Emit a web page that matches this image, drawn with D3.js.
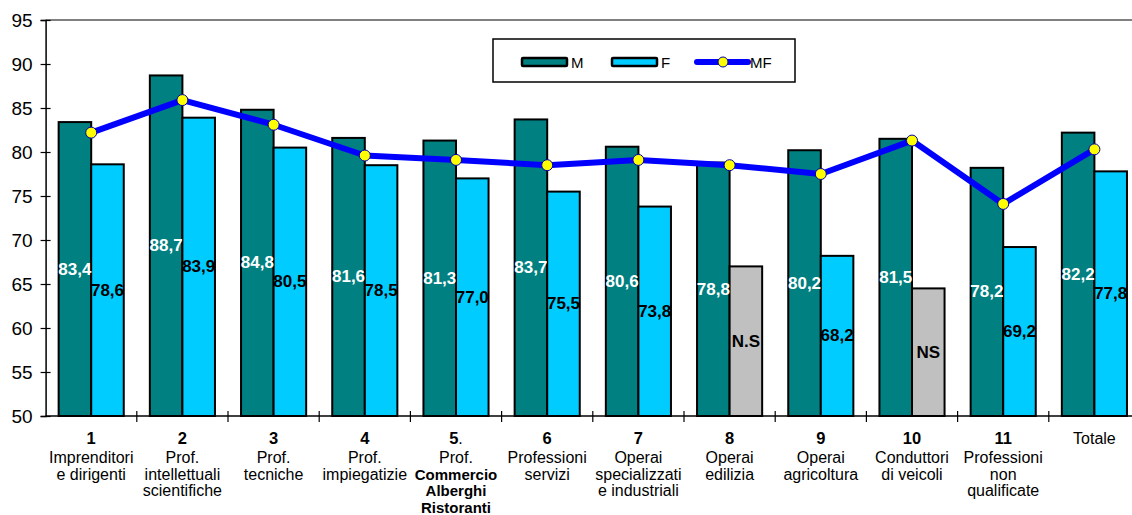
<!DOCTYPE html>
<html>
<head>
<meta charset="utf-8">
<script src="https://cdn.jsdelivr.net/npm/d3@7"></script>
<style>
  html, body { margin: 0; padding: 0; background: #fff; }
  svg { display: block; font-family: "Liberation Sans", Arial, sans-serif; }
</style>
</head>
<body>
<svg id="chart" width="1132" height="515"></svg>
<script>
// ---- data ----
const catNumbers = ["1", "2", "3", "4", "5", "6", "7", "8", "9", "10", "11", "Totale"];
const catLines = [
  ["Imprenditori", "e dirigenti"],
  ["Prof.", "intellettuali", "scientifiche"],
  ["Prof.", "tecniche"],
  ["Prof.", "impiegatizie"],
  ["Prof.", "Commercio", "Alberghi", "Ristoranti"],
  ["Professioni", "servizi"],
  ["Operai", "specializzati", "e industriali"],
  ["Operai", "edilizia"],
  ["Operai", "agricoltura"],
  ["Conduttori", "di veicoli"],
  ["Professioni", "non", "qualificate"],
  []
];
const mValues = [83.4, 88.7, 84.8, 81.6, 81.3, 83.7, 80.6, 78.8, 80.2, 81.5, 78.2, 82.2];
const mLabels = ["83,4", "88,7", "84,8", "81,6", "81,3", "83,7", "80,6", "78,8", "80,2", "81,5", "78,2", "82,2"];
const fValues = [78.6, 83.9, 80.5, 78.5, 77.0, 75.5, 73.8, 67.0, 68.2, 64.5, 69.2, 77.8];
const fLabels = ["78,6", "83,9", "80,5", "78,5", "77,0", "75,5", "73,8", "N.S", "68,2", "NS", "69,2", "77,8"];
const mfValues = [82.2, 85.9, 83.1, 79.6, 79.1, 78.5, 79.1, 78.5, 77.5, 81.3, 74.1, 80.3];
const yTicks = [50, 55, 60, 65, 70, 75, 80, 85, 90, 95];
const seriesNames = ["M", "F", "MF"];

// ---- layout ----
const svg = d3.select("#chart");
const plotLeft = 45.6, plotRight = 1140, plotTop = 20, plotBottom = 416;
const colM = "#008080", colF = "#00CCFF", colNS = "#C0C0C0", colLine = "#0000FF";

const x = d3.scaleBand().domain(d3.range(catNumbers.length)).range([plotLeft, plotRight]).padding(0);
const y = d3.scaleLinear().domain([50, 95]).range([plotBottom, plotTop]);
const bw = x.bandwidth() * 0.357;

// plot top border
svg.append("line").attr("x1", plotLeft).attr("x2", 1132).attr("y1", plotTop).attr("y2", plotTop)
  .attr("stroke", "#808080").attr("stroke-width", 2);

const idx = d3.range(catNumbers.length);
const cx = i => x(i) + x.bandwidth() / 2;

// bars
svg.append("g").selectAll("rect").data(idx).join("rect")
  .attr("x", i => cx(i) - bw).attr("width", bw)
  .attr("y", i => y(mValues[i])).attr("height", i => y(50) - y(mValues[i]))
  .attr("fill", colM).attr("stroke", "#000").attr("stroke-width", 2);
svg.append("g").selectAll("rect").data(idx).join("rect")
  .attr("x", i => cx(i)).attr("width", bw)
  .attr("y", i => y(fValues[i])).attr("height", i => y(50) - y(fValues[i]))
  .attr("fill", i => fLabels[i].includes("S") ? colNS : colF)
  .attr("stroke", "#000").attr("stroke-width", 2);

// y axis
const yAxis = svg.append("g").attr("transform", `translate(${plotLeft},0)`)
  .call(d3.axisLeft(y).tickValues(yTicks).tickSize(5).tickPadding(8).tickFormat(d3.format("d")));
yAxis.select(".domain").attr("stroke", "#000").attr("stroke-width", 1.5);
yAxis.selectAll(".tick line").attr("x1", -5).attr("x2", 5).attr("stroke", "#000").attr("stroke-width", 1.2);
yAxis.selectAll(".tick text").attr("font-size", 19).attr("fill", "#000")
  .attr("font-family", "'Liberation Sans', Arial, sans-serif");

// x axis line + boundary ticks
svg.append("line").attr("x1", plotLeft).attr("x2", 1132).attr("y1", plotBottom).attr("y2", plotBottom)
  .attr("stroke", "#000").attr("stroke-width", 1.5);
svg.append("g").selectAll("line").data(idx.slice(1)).join("line")
  .attr("x1", i => x(i)).attr("x2", i => x(i)).attr("y1", plotBottom - 5).attr("y2", plotBottom + 6)
  .attr("stroke", "#000").attr("stroke-width", 1.2);

// value labels
svg.append("g").selectAll("text").data(idx).join("text")
  .attr("x", i => cx(i) - bw / 2).attr("y", i => (y(mValues[i]) + y(50)) / 2)
  .attr("text-anchor", "middle").attr("dominant-baseline", "central")
  .attr("font-size", 17).attr("font-weight", "bold").attr("fill", "#fff")
  .text(i => mLabels[i]);
svg.append("g").selectAll("text").data(idx).join("text")
  .attr("x", i => cx(i) + bw / 2).attr("y", i => (y(fValues[i]) + y(50)) / 2)
  .attr("text-anchor", "middle").attr("dominant-baseline", "central")
  .attr("font-size", 17).attr("font-weight", "bold").attr("fill", "#000")
  .text(i => fLabels[i]);

// MF line
const line = d3.line().x(i => cx(i)).y(i => y(mfValues[i]));
svg.append("path").datum(idx).attr("d", line).attr("fill", "none")
  .attr("stroke", colLine).attr("stroke-width", 6).attr("stroke-linejoin", "round");
svg.append("g").selectAll("circle").data(idx).join("circle")
  .attr("cx", i => cx(i)).attr("cy", i => y(mfValues[i])).attr("r", 5.5)
  .attr("fill", "#FFFF00").attr("stroke", "#0000AA").attr("stroke-width", 1);

// category labels
const lab = svg.append("g");
idx.forEach(i => {
  const t = lab.append("text").attr("x", cx(i)).attr("y", 444).attr("text-anchor", "middle")
    .attr("fill", "#000");
  if (catNumbers[i] === "Totale") {
    t.attr("font-size", 16).text(catNumbers[i]);
  } else {
    t.append("tspan").attr("font-size", 16.5).attr("font-weight", "bold").text(catNumbers[i]);
    if (i === 4) t.append("tspan").attr("font-size", 16).text(".");
  }
  catLines[i].forEach((s, k) => {
    const isBold = (i === 4 && k > 0);
    lab.append("text").attr("x", cx(i)).attr("y", 463 + k * 16.5).attr("text-anchor", "middle")
      .attr("font-size", isBold ? 15 : 16).attr("fill", "#000")
      .attr("font-weight", isBold ? "bold" : "normal")
      .text(s);
  });
});

// legend
const lg = svg.append("g");
lg.append("rect").attr("x", 493).attr("y", 39).attr("width", 302).attr("height", 43)
  .attr("fill", "#fff").attr("stroke", "#000").attr("stroke-width", 1.5);
const legendItems = [
  {name: seriesNames[0], type: "bar", color: colM, x0: 522},
  {name: seriesNames[1], type: "bar", color: colF, x0: 612},
  {name: seriesNames[2], type: "line", color: colLine, x0: 697}
];
legendItems.forEach(d => {
  if (d.type === "bar") {
    lg.append("rect").attr("x", d.x0).attr("y", 58).attr("width", 45).attr("height", 8)
      .attr("fill", d.color).attr("stroke", "#000").attr("stroke-width", 2.5).attr("rx", 1);
    lg.append("text").attr("x", d.x0 + 49).attr("y", 68).attr("font-size", 15).text(d.name);
  } else {
    lg.append("line").attr("x1", d.x0).attr("x2", d.x0 + 51).attr("y1", 62).attr("y2", 62)
      .attr("stroke", d.color).attr("stroke-width", 6).attr("stroke-linecap", "round");
    lg.append("circle").attr("cx", d.x0 + 26).attr("cy", 62).attr("r", 5)
      .attr("fill", "#FFFF00").attr("stroke", "#0000AA").attr("stroke-width", 1);
    lg.append("text").attr("x", d.x0 + 53).attr("y", 68).attr("font-size", 15).text(d.name);
  }
});
</script>
</body>
</html>
